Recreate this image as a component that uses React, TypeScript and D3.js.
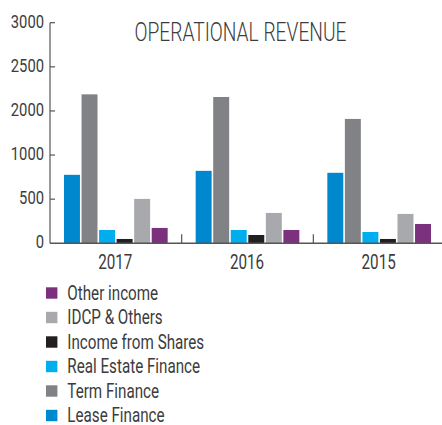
import React from "react";
import * as d3 from "d3";

const years = ["2017", "2016", "2015"];
const seriesNames = ["Lease Finance", "Term Finance", "Real Estate Finance", "Income from Shares", "IDCP & Others", "Other income"];
const seriesColors = ["#0088cf", "#808285", "#00aeef", "#231f20", "#a7a9ac", "#7b317e"];
const leaseFinance = [776, 821, 799];
const termFinance = [2188, 2158, 1819];
const realEstateFinance = [151, 151, 128];
const incomeFromShares = [49, 94, 49];
const idcpOthers = [503, 344, 333];
const otherIncome = [174, 151, 219];
const yTickValues = [0, 500, 1000, 2000, 2500, 3000];
const legendOrder = ["Other income", "IDCP & Others", "Income from Shares", "Real Estate Finance", "Term Finance", "Lease Finance"];

const seriesValues = [leaseFinance, termFinance, realEstateFinance, incomeFromShares, idcpOthers, otherIncome];
const FONT = "Roboto, 'Noto Sans', sans-serif";
const TXT = "#3c3c3c";

function SText({ x, y, s, size, anchor = "start", children }: any) {
  return (
    <text transform={`translate(${x},${y}) scale(${s},1)`} textAnchor={anchor} fontSize={size} fill={TXT} fontWeight={400}>
      {children}
    </text>
  );
}

export default function App() {
  const W = 442, H = 425;
  const x0 = 50, x1 = 445, yTop = 22.7, yBase = 243.3;
  const yPos = yTickValues.map((_, i) => yBase - (i * (yBase - yTop)) / (yTickValues.length - 1));
  const y = d3.scaleLinear().domain(yTickValues).range(yPos);
  const xBand = d3.scaleBand().domain(years).range([x0, x1]).paddingInner(0).paddingOuter(0);
  const inner = d3.scaleBand().domain(seriesNames).range([14, xBand.bandwidth() - 14]).paddingInner(0.09);

  return (
    <svg width={W} height={H} style={{ position: "absolute", left: 0, top: 0, background: "#fff" }} fontFamily={FONT}>
      {/* title */}
      <text x={240.5} y={40.5} textAnchor="middle" fontSize={25} fill={TXT} fontWeight={300} textLength={212} lengthAdjust="spacingAndGlyphs">OPERATIONAL REVENUE</text>
      {/* bars */}
      {years.map((yr, gi) => (
        <g key={yr} transform={`translate(${xBand(yr)},0)`}>
          {seriesNames.map((s, si) => {
            const v = seriesValues[si][gi];
            return <rect key={s} x={inner(s)} y={y(v)} width={inner.bandwidth()} height={yBase - y(v)} fill={seriesColors[si]} />;
          })}
        </g>
      ))}
      {/* y axis */}
      <line x1={x0} x2={x0} y1={yTop} y2={yBase} stroke="#555" strokeWidth={1.2} />
      {yTickValues.map((t) => (
        <g key={t}>
          {t !== 0 && <line x1={x0} x2={x0 + 5} y1={y(t)} y2={y(t)} stroke="#555" strokeWidth={1.2} />}
          <SText x={44} y={y(t) + 4.8} s={0.79} size={18.7} anchor="end">{t}</SText>
        </g>
      ))}
      {/* x axis */}
      <line x1={x0} x2={442} y1={yBase} y2={yBase} stroke="#555" strokeWidth={1.4} />
      {years.slice(1).map((yr) => (
        <line key={yr} x1={xBand(yr)} x2={xBand(yr)} y1={yBase - 9} y2={yBase} stroke="#555" strokeWidth={1.2} />
      ))}
      {years.map((yr) => (
        <SText key={yr} x={(xBand(yr) as number) + xBand.bandwidth() / 2 - 0.5} y={268.7} s={0.78} size={19.5} anchor="middle">{yr}</SText>
      ))}
      {/* legend */}
      {legendOrder.map((name, i) => {
        const ci = seriesNames.indexOf(name);
        const cy = 293 + i * 24.5;
        return (
          <g key={name}>
            <rect x={46} y={cy - 5.7} width={11.4} height={11.4} fill={seriesColors[ci]} />
            <SText x={67.3} y={cy + 6.8} s={0.78} size={19.5}>{name}</SText>
          </g>
        );
      })}
    </svg>
  );
}
